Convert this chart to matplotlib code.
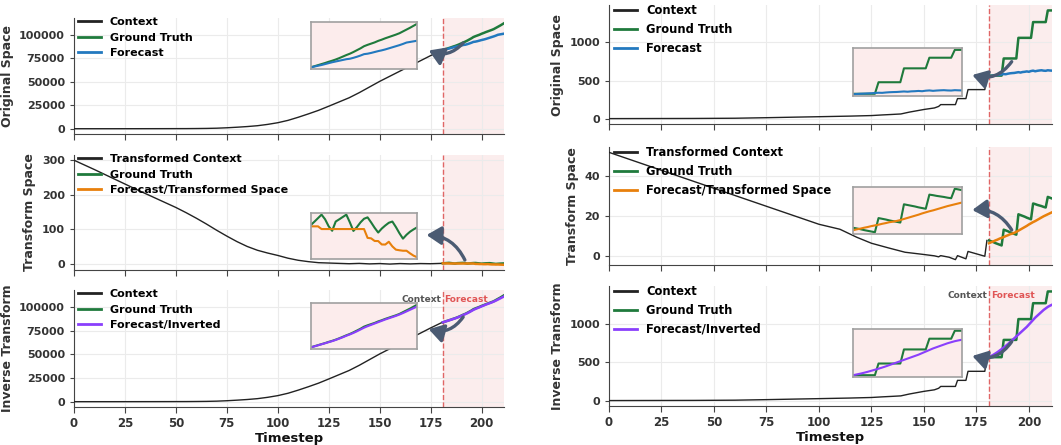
"""Context / forecast in original, transformed and inverse-transformed space, two series side by side."""
import numpy as np
import matplotlib

matplotlib.use("Agg")
import matplotlib.pyplot as plt
from matplotlib.lines import Line2D
from matplotlib.patches import FancyArrowPatch
from matplotlib.transforms import blended_transform_factory

plt.rcParams["font.family"] = "DejaVu Sans"
plt.rcParams["font.weight"] = "bold"
plt.rcParams["axes.labelweight"] = "bold"

SPLIT, XMAX = 181, 211
FC_T = np.arange(181, 212)  # forecast timesteps

# ---- left series (smooth growth) ----
L_CTX_T = [0, 20, 40, 55, 60, 65, 70, 75, 80, 85, 90, 95, 100, 105, 110, 115, 120,
           125, 130, 135, 140, 145, 150, 155, 160, 165, 170, 175, 180, 181]
L_CTX = [0, 0, 50, 120, 200, 320, 550, 1000, 1600, 2300, 3200, 4600, 6400, 8900, 12200,
         15800, 19600, 24000, 28500, 33000, 38500, 44500, 50500, 56000, 61500, 67000,
         72500, 78000, 83200, 84000]
L_GT = [84000, 84700, 85400, 86100, 86800, 87600, 88300, 89100, 90000, 91000, 92000,
        92900, 94000, 95200, 96400, 97800, 98700, 99500, 100300, 101300, 102100, 103000,
        103800, 104600, 105400, 106300, 107500, 108700, 109900, 111200, 112500]
L_FC = [84000, 84500, 85000, 85500, 86100, 86700, 87300, 87800, 88300, 88800, 89300,
        89600, 90200, 90900, 91700, 92600, 92900, 93400, 94000, 94600, 95100, 95700,
        96400, 97100, 97800, 98500, 99300, 100200, 100600, 101000, 101400]
L_TR_T = [0, 10, 20, 30, 40, 50, 55, 60, 65, 70, 75, 80, 85, 90, 95, 100, 105, 110, 115,
          120, 125, 130, 135, 140, 145, 150, 155, 160, 165, 170, 175, 181]
L_TR = [300, 273, 245, 217, 190, 163, 148, 132, 115, 97, 80, 64, 50, 39, 31, 24, 16, 10,
        6, 3, 2, 1, 0, 1, -0.5, 0.5, -1, 0.5, -0.5, 0.5, 0, 1.2]
L_TR_GT = [1.17, 1.6, 2.05, 2.5, 1.9, 1.0, 0.42, 1.61, 1.9, 2.2, 2.5, 1.5, 0.4, 0.9, 1.5,
           1.97, 2.15, 1.5, 0.8, 0.19, 0.7, 1.1, 1.45, 1.61, 0.9, 0.1, -0.6, -0.1, 0.3,
           0.6, 0.86]
L_TR_FC = [0.99, 0.99, 0.99, 0.64, 0.64, 0.64, 0.64, 0.64, 0.64, 0.64, 0.64, 0.64, 0.64,
           0.64, 0.64, 0.64, -0.5, -0.56, -0.9, -0.91, -1.35, -1.36, -1.0, -1.6, -2.02,
           -2.1, -2.16, -2.16, -2.5, -2.8, -3.0]
L_INV = [84000, 84600, 85300, 86000, 86700, 87400, 88100, 88900, 89800, 90700, 91700,
         92600, 93600, 94700, 95900, 97100, 98100, 99000, 99900, 100800, 101700, 102600,
         103400, 104200, 105000, 105900, 106900, 108000, 109100, 110200, 111300]

# ---- right series (step-like growth) ----
R_CTX_T = [0, 40, 60, 75, 90, 100, 115, 125, 130, 135, 139, 143, 147, 150, 153, 155, 157,
           158, 165, 166, 170, 171, 179, 180]
R_CTX = [0, 2, 5, 12, 20, 25, 33, 40, 48, 55, 61, 85, 105, 120, 132, 140, 160, 184, 184,
         263, 263, 381, 381, 565]
R_GT = [565] * 7 + [790] * 7 + [1061] * 7 + [1268] * 7 + [1421] * 3
R_FC = [555, 560, 565, 568, 572, 575, 580, 585, 583, 590, 595, 598, 600, 605, 610, 605,
        612, 615, 620, 615, 625, 630, 622, 628, 632, 635, 630, 628, 635, 632, 630]
R_TR_T = [0, 25, 50, 75, 100, 110, 118, 125, 133, 141, 149, 155, 157, 158, 162, 165, 166,
          170, 171, 179, 180]
R_TR = [52, 43, 34, 25, 16, 13.5, 9.5, 6.5, 4.2, 2.0, 1.0, 0.2, -0.3, 0.3, -0.5, -1.7,
        0.3, -1.3, 2.4, 0.0, 7.9]
R_TR_GT = [7.9, 7.5, 7.1, 6.6, 6.2, 5.8, 5.4, 13.3, 12.9, 12.5, 12.0, 11.6, 11.2, 10.8,
           21.0, 20.6, 20.2, 19.8, 19.3, 18.9, 18.5, 26.4, 26.1, 25.7, 25.4, 25.1, 24.7,
           24.4, 29.7, 29.3, 28.9]
R_TR_FC = [6.5, 7.0, 7.4, 7.9, 8.3, 8.8, 9.2, 9.6, 10.1, 10.5, 11.0, 11.3, 11.7, 12.2,
           12.8, 13.4, 14.0, 14.6, 15.2, 15.9, 16.5, 17.1, 17.6, 18.2, 18.8, 19.4, 20.0,
           20.5, 21.0, 21.5, 22.0]
R_INV = [565, 580, 595, 612, 630, 650, 670, 690, 712, 735, 760, 785, 810, 835, 860, 885,
         910, 935, 960, 990, 1020, 1050, 1080, 1105, 1130, 1155, 1180, 1200, 1220, 1235,
         1248]

CTX_C, GT_C = "#222222", "#1f7a3c"
FC_C, TR_C, INV_C = "#2379bf", "#e8800c", "#8a3ffc"
SPLIT_C, ARROW_C, INK = "#e06666", "#4b5b73", "#333333"

fig = plt.figure(figsize=(10.61, 4.45), dpi=100)


def panel(rect, ctx_t, ctx, gt, fc, fc_c, labels, ylabel, inset, arrow, rad,
          yticks, legend_fs=8, bottom=False):
    ax = fig.add_axes(rect)
    ax.axvspan(SPLIT, XMAX, color="#dc5050", alpha=0.1, lw=0, zorder=0)
    ax.axvline(SPLIT, color=SPLIT_C, ls="--", lw=1, zorder=1)
    ax.plot(ctx_t, ctx, color=CTX_C, lw=1, zorder=3)
    ax.plot(FC_T, gt, color=GT_C, lw=1.8, zorder=3)
    ax.plot(FC_T, fc, color=fc_c, lw=1.8, zorder=3)
    ax.set_xlim(0, XMAX)
    ax.set_xticks(np.arange(0, 201, 25))
    ax.set_yticks(yticks)
    ax.grid(True, color="#ebebeb", lw=0.8)
    ax.set_axisbelow(True)
    for s in ("top", "right"):
        ax.spines[s].set_visible(False)
    for s in ("left", "bottom"):
        ax.spines[s].set_color("#444444")
    ax.tick_params(axis="x", length=4, color="#444444", labelsize=8.5, labelcolor=INK,
                   labelbottom=bottom)
    ax.tick_params(axis="y", length=3, color="#444444", labelsize=8, labelcolor=INK)
    ax.set_ylabel(ylabel, fontsize=9, color=INK)
    if bottom:
        ax.set_xlabel("Timestep", fontsize=9.5, color="#111111", labelpad=1)
        tr = blended_transform_factory(ax.transData, ax.transAxes)
        ax.text(SPLIT - 0.8, 0.92, "Context", transform=tr, ha="right", va="center",
                fontsize=6.5, color="#555555")
        ax.text(SPLIT + 0.8, 0.92, "Forecast", transform=tr, ha="left", va="center",
                fontsize=6.5, color="#e05555")

    handles = [Line2D([], [], color=c, lw=2) for c in (CTX_C, GT_C, fc_c)]
    ax.legend(handles, labels, loc="upper left", bbox_to_anchor=(0, 1.045),
              borderaxespad=0, frameon=False, fontsize=legend_fs, labelspacing=0.5)

    ins = ax.inset_axes(inset)
    ins.set_facecolor("#fcecec")
    ins.plot(FC_T, gt, color=GT_C, lw=1.5)
    ins.plot(FC_T, fc, color=fc_c, lw=1.5)
    ins.set_xlim(SPLIT, XMAX)
    ins.margins(y=0.04)
    ins.set_xticks([])
    ins.set_yticks([])
    for sp in ins.spines.values():
        sp.set_color("#a0a0a0")
        sp.set_linewidth(1.2)
    ins.set_zorder(5)

    ar = FancyArrowPatch(arrow[0], arrow[1], transform=ax.transAxes,
                         connectionstyle=f"arc3,rad={rad}",
                         arrowstyle="-|>,head_length=0.8,head_width=0.5",
                         mutation_scale=11, color=ARROW_C, lw=2.4, zorder=6,
                         shrinkA=0, shrinkB=0, clip_on=False)
    ax.add_patch(ar)
    return ax


LX, LW = 74 / 1061, 430 / 1061
RX, RW = 609 / 1061, 443 / 1061

ctx3 = ["Context", "Ground Truth", "Forecast"]
tr3 = ["Transformed Context", "Ground Truth", "Forecast/Transformed Space"]
inv3 = ["Context", "Ground Truth", "Forecast/Inverted"]

# left column
panel([LX, 0.6989, LW, 0.2607], L_CTX_T, L_CTX, L_GT, L_FC, FC_C, ctx3, "Original Space",
      [0.551, 0.56, 0.247, 0.405], ((0.905, 0.784), (0.825, 0.72)), -0.35,
      [0, 25000, 50000, 75000, 100000])
panel([LX, 0.3933, LW, 0.2584], L_TR_T, L_TR, L_TR_GT, L_TR_FC, TR_C, tr3,
      "Transform Space", [0.551, 0.096, 0.247, 0.40],
      ((0.909, 0.087), (0.82, 0.304)), 0.3, [0, 100, 200, 300])
panel([LX, 0.0854, LW, 0.2629], L_CTX_T, L_CTX, L_GT, L_INV, INV_C, inv3,
      "Inverse Transform", [0.551, 0.496, 0.247, 0.393],
      ((0.905, 0.769), (0.825, 0.665)), -0.35, [0, 25000, 50000, 75000, 100000],
      bottom=True)

# right column
panel([RX, 0.7213, RW, 0.2674], R_CTX_T, R_CTX, R_GT, R_FC, FC_C, ctx3, "Original Space",
      [0.551, 0.235, 0.246, 0.403], ((0.909, 0.524), (0.82, 0.412)), -0.35,
      [0, 500, 1000], legend_fs=8.3)
panel([RX, 0.4045, RW, 0.2652], R_TR_T, R_TR, R_TR_GT, R_TR_FC, TR_C, tr3,
      "Transform Space", [0.551, 0.263, 0.246, 0.398],
      ((0.909, 0.297), (0.82, 0.466)), 0.3, [0, 20, 40], legend_fs=8.3)
panel([RX, 0.0876, RW, 0.2697], R_CTX_T, R_CTX, R_GT, R_INV, INV_C, inv3,
      "Inverse Transform", [0.551, 0.242, 0.246, 0.40],
      ((0.909, 0.536), (0.82, 0.417)), -0.35, [0, 500, 1000], legend_fs=8.3,
      bottom=True)

fig.savefig("out.png", dpi=100)
